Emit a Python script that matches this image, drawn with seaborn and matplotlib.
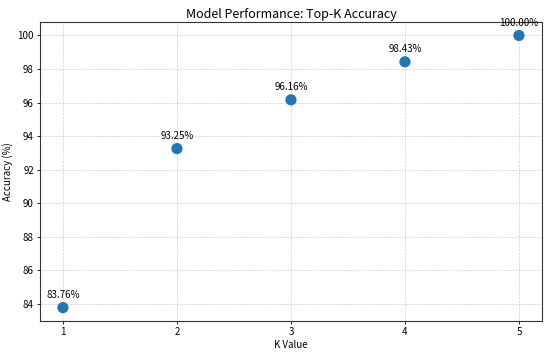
import matplotlib
matplotlib.use("Agg")
import matplotlib.pyplot as plt
import seaborn as sns
import pandas as pd

k_values = [1, 2, 3, 4, 5]
accuracy = [83.76, 93.25, 96.16, 98.43, 100.00]
labels = ["83.76%", "93.25%", "96.16%", "98.43%", "100.00%"]

plt.rcParams['font.family'] = ['Noto Sans CJK SC', 'DejaVu Sans']

df = pd.DataFrame({"K": k_values, "Acc": accuracy})

fig, ax = plt.subplots(figsize=(5.5, 3.53), dpi=100)
sns.scatterplot(data=df, x="K", y="Acc", s=65, color="#1f77b4", edgecolor="none", ax=ax, zorder=3)
for k, a, lab in zip(k_values, accuracy, labels):
    ax.annotate(lab, (k, a), textcoords="offset points", xytext=(0, 7), ha="center", fontsize=7)

ax.set_xticks(k_values)
ax.set_title("Model Performance: Top-K Accuracy", fontsize=9, pad=3)
ax.set_xlabel("K Value", fontsize=7, labelpad=2)
ax.set_ylabel("Accuracy (%)", fontsize=7, labelpad=3)
ax.tick_params(labelsize=7, length=2.5, width=0.6, pad=2)
for sp in ax.spines.values():
    sp.set_linewidth(0.8)
    sp.set_color("#333333")
ax.grid(True, linestyle="--", linewidth=0.5, alpha=0.6)
ax.set_axisbelow(True)
fig.subplots_adjust(left=0.073, right=0.985, top=0.938, bottom=0.09)
fig.savefig("out.png", dpi=100)
